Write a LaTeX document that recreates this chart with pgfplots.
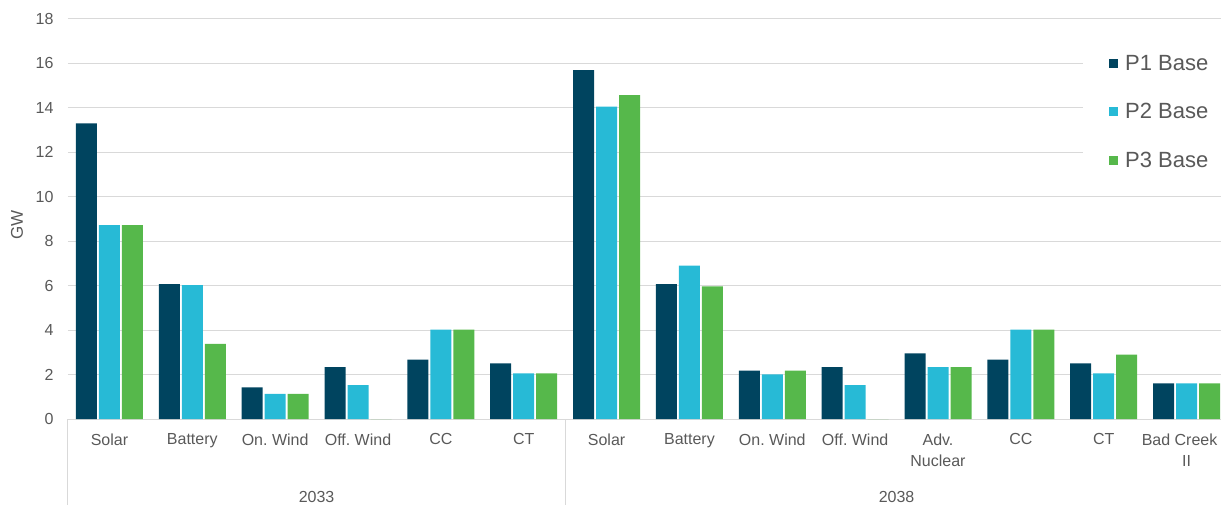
\documentclass[border=0pt]{standalone}
\usepackage{pgfplots}
\pgfplotsset{compat=1.18}
\usepackage{fontspec}
\setmainfont{Liberation Sans}
\definecolor{pone}{HTML}{00445F}
\definecolor{ptwo}{HTML}{27BAD6}
\definecolor{pthree}{HTML}{56B84B}
\definecolor{txt}{HTML}{595959}
\definecolor{gridc}{HTML}{D9D9D9}
\newcommand{\lblfont}{\fontsize{16}{21}\selectfont}

\begin{document}
\frenchspacing
\begin{tikzpicture}[x=1pt,y=1pt]
\useasboundingbox (0,0) rectangle (1221,504);
\begin{axis}[
  at={(68pt,85pt)}, anchor=south west,
  scale only axis, width=1160pt, height=400pt,
  clip=false,
  ybar=2pt, bar width=21pt,
  xmin=-0.5, xmax=13.5, ymin=0, ymax=18,
  ytick={0,2,...,18},
  xtick={0,...,13},
  xticklabels={Solar,Battery,On. Wind,Off. Wind,CC,CT,Solar,Battery,On. Wind,Off. Wind,Adv.\\Nuclear,CC,CT,\hspace*{-14pt}Bad Creek\\II},
  xticklabel style={align=center, font=\lblfont, text=txt, yshift=-11pt},
  yticklabel style={font=\lblfont, text=txt, xshift=-11pt},
  /pgf/number format/assume math mode=true,
  major tick length=0pt,
  axis line style={draw=none},
  ymajorgrids, grid style={gridc, line width=1pt},
  ylabel={GW},
  ylabel style={font=\fontsize{17}{19}\selectfont, text=txt, at={(rel axis cs:-0.044,0.485)}, anchor=center},
  legend style={at={(rel axis cs:0.875,0.93)}, anchor=north west, draw=none, fill=white,
    font=\fontsize{22}{26}\selectfont, text=txt, row sep=27.5pt, inner xsep=26pt, inner ysep=6pt,
    /tikz/every odd column/.append style={column sep=5pt}},
  legend cell align=left,
  legend image code/.code={\fill[#1,draw=none] (0pt,-4.5pt) rectangle (9pt,4.5pt);},
]
\addplot[fill=pone, draw=none] coordinates {
  (0,13.3) (1,6.07) (2,1.42) (3,2.33) (4,2.67) (5,2.5)
  (6,15.7) (7,6.07) (8,2.18) (9,2.33) (10,2.95) (11,2.67) (12,2.5) (13,1.6)};
\addplot[fill=ptwo, draw=none] coordinates {
  (0,8.72) (1,6.02) (2,1.13) (3,1.53) (4,4.02) (5,2.05)
  (6,14.06) (7,6.9) (8,2.01) (9,1.53) (10,2.33) (11,4.02) (12,2.05) (13,1.6)};
\addplot[fill=pthree, draw=none] coordinates {
  (0,8.72) (1,3.38) (2,1.13) (3,0) (4,4.02) (5,2.05)
  (6,14.57) (7,5.97) (8,2.18) (9,0) (10,2.33) (11,4.02) (12,2.9) (13,1.6)};
\legend{P1 Base, P2 Base, P3 Base}
% category group separators below the baseline
\draw[gridc, line width=1pt] (axis cs:-0.5,0) -- ([yshift=-90pt]axis cs:-0.5,0);
\draw[gridc, line width=1pt] (axis cs:5.5,0) -- ([yshift=-90pt]axis cs:5.5,0);
\draw[gridc, line width=1pt] (axis cs:13.5,0) -- ([yshift=-90pt]axis cs:13.5,0);
\node[font=\lblfont, text=txt] at ([yshift=-78pt]axis cs:2.5,0) {2033};
\node[font=\lblfont, text=txt] at ([yshift=-78pt]axis cs:9.5,0) {2038};
\end{axis}
\end{tikzpicture}
\end{document}
